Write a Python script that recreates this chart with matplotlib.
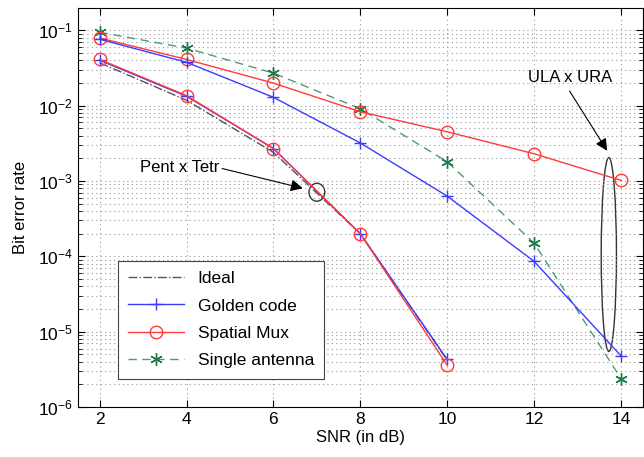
import matplotlib.pyplot as plt
from matplotlib.patches import Ellipse
from matplotlib.ticker import LogLocator, NullFormatter

plt.rcParams['font.family'] = ['Liberation Sans', 'DejaVu Sans']
plt.rcParams['mathtext.fontset'] = 'custom'
plt.rcParams['mathtext.rm'] = 'Liberation Sans'

# SNR points (dB)
snr = [2, 4, 6, 8, 10, 12, 14]
snr_low = [2, 4, 6, 8, 10]

# Pent x Tetr configuration (lower curves)
ideal = [0.037, 0.0118, 0.0024, 0.0002, 4.2e-6]
golden_pt = [0.040, 0.0133, 0.0027, 0.0002, 4.3e-6]
mux_pt = [0.041, 0.0136, 0.0027, 0.0002, 3.6e-6]

# ULA x URA configuration (upper curves)
golden_ula = [0.076, 0.0376, 0.0129, 0.0032, 6.3e-4, 8.6e-5, 4.8e-6]
mux_ula = [0.079, 0.041, 0.0199, 0.0083, 0.0045, 0.0023, 0.00102]
single = [0.094, 0.058, 0.027, 0.0091, 0.0018, 1.5e-4, 2.4e-6]

fig = plt.figure(figsize=(6.44, 4.57), dpi=100)
ax = fig.add_axes([0.121, 0.109, 0.877, 0.873])

red = '#ff3b3b'
blue = '#3b3bff'
green = '#4a9e76'
asterisk = (6, 2, 0)

ax.semilogy(snr_low, ideal, '-.', color='#555555', lw=1.0, label='Ideal')
ax.semilogy(snr_low, golden_pt, '-', color=blue, lw=1.0, marker='+', ms=9, mew=1.0)
ax.semilogy(snr_low, mux_pt, '-', color=red, lw=1.0, marker='o', ms=9, mfc='none', mew=1.0)
ax.semilogy(snr, single, '--', color=green, lw=1.0, marker=asterisk, ms=9, mew=1.0,
            mec='#1f7a4a', dashes=(6, 4), label='Single antenna')
ax.semilogy(snr, mux_ula, '-', color=red, lw=1.0, marker='o', ms=9, mfc='none', mew=1.0,
            label='Spatial Mux')
ax.semilogy(snr, golden_ula, '-', color=blue, lw=1.0, marker='+', ms=9, mew=1.0,
            label='Golden code')

ax.set_xlim(1.5, 14.5)
ax.set_ylim(1e-6, 0.196)
ax.set_xticks(snr)
ax.yaxis.set_major_locator(LogLocator(base=10, numticks=10))
ax.yaxis.set_minor_locator(LogLocator(base=10, subs=range(2, 10), numticks=10))
ax.yaxis.set_minor_formatter(NullFormatter())
ax.tick_params(which='both', direction='in', top=True, right=True, labelsize=12.5)
ax.tick_params(which='major', length=5)
ax.tick_params(which='minor', length=3)
ax.grid(True, which='major', axis='both', color='#999999', lw=0.8, dashes=(1, 3))
ax.grid(True, which='minor', axis='y', color='#999999', lw=0.8, dashes=(1, 3))

ax.set_xlabel('SNR (in dB)', fontsize=12, labelpad=2)
ax.set_ylabel('Bit error rate', fontsize=12, labelpad=7)

handles, labels = ax.get_legend_handles_labels()
order = [labels.index(n) for n in ['Ideal', 'Golden code', 'Spatial Mux', 'Single antenna']]
leg = ax.legend([handles[i] for i in order], [labels[i] for i in order],
                loc='lower left', bbox_to_anchor=(0.055, 0.05), fontsize=12.5,
                handlelength=3.2, fancybox=False, edgecolor='#444444',
                framealpha=1, borderpad=0.6, labelspacing=0.7)
leg.get_frame().set_linewidth(0.8)

# annotation ellipses, sized in axes fraction
to_axes = ax.transData + ax.transAxes.inverted()
c1 = to_axes.transform((7.0, 7.1e-4))
c2 = to_axes.transform((13.72, 1.06e-4))
ax.add_patch(Ellipse(c1, 0.028, 0.045, transform=ax.transAxes,
                     fill=False, ec='#333333', lw=1.0))
ax.add_patch(Ellipse(c2, 0.027, 0.486, transform=ax.transAxes,
                     fill=False, ec='#333333', lw=1.0))

ax.annotate('Pent x Tetr', xy=(c1[0] - 0.025, c1[1] + 0.01), xycoords='axes fraction',
            xytext=(0.18, 0.6), textcoords='axes fraction', fontsize=12,
            ha='center', va='center',
            arrowprops=dict(arrowstyle='-|>', color='black', lw=0.8,
                            mutation_scale=18, shrinkA=0, shrinkB=0,
                            relpos=(1.0, 0.5)))
ax.annotate('ULA x URA', xy=(c2[0] - 0.003, c2[1] + 0.26), xycoords='axes fraction',
            xytext=(0.871, 0.827), textcoords='axes fraction', fontsize=12,
            ha='center', va='center',
            arrowprops=dict(arrowstyle='-|>', color='black', lw=0.8,
                            mutation_scale=18, shrinkA=3, shrinkB=0,
                            relpos=(0.45, 0.0)))

fig.savefig('out.png', dpi=100)
